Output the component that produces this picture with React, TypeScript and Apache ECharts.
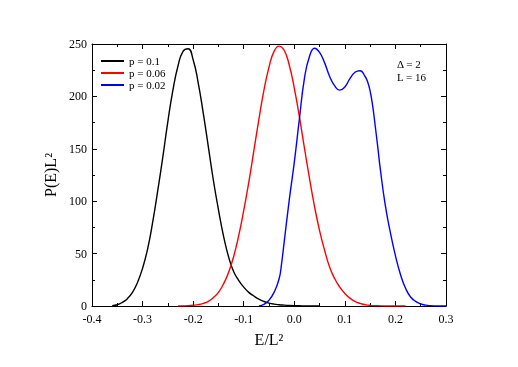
import React, { useEffect, useRef } from "react";
import * as echarts from "echarts";

const blackX = [-0.36, -0.35, -0.34, -0.33, -0.32, -0.31, -0.3, -0.29, -0.28, -0.27, -0.26, -0.25, -0.24, -0.23, -0.22, -0.21, -0.2, -0.19, -0.18, -0.17, -0.16, -0.15, -0.14, -0.13, -0.12, -0.11, -0.1, -0.09, -0.08, -0.07, -0.06, -0.05, -0.04, -0.03, -0.02, -0.01, 0.0, 0.01, 0.02, 0.03, 0.04, 0.05];
const blackY = [0.3, 1.2, 3.5, 7, 13, 22.5, 36, 54.5, 80, 110, 142, 176, 206, 229, 243, 245.5, 235, 213, 184, 152, 120, 92, 67, 47, 33, 24.5, 18, 13, 9.5, 6.5, 4.3, 2.8, 1.8, 1.2, 0.8, 0.5, 0.3, 0.2, 0.1, 0.05, 0, 0];

const redX = [-0.23, -0.22, -0.21, -0.2, -0.19, -0.18, -0.17, -0.16, -0.15, -0.14, -0.13, -0.12, -0.11, -0.1, -0.09, -0.08, -0.07, -0.06, -0.05, -0.04, -0.03, -0.02, -0.01, 0.0, 0.01, 0.02, 0.03, 0.04, 0.05, 0.06, 0.07, 0.08, 0.09, 0.1, 0.11, 0.12, 0.13, 0.14, 0.15, 0.16, 0.17, 0.18, 0.19, 0.2, 0.21, 0.22];
const redY = [0, 0.1, 0.3, 0.7, 1.3, 2.5, 4.5, 8, 13, 21, 32, 47, 67, 91, 118, 148, 178, 206, 228, 243, 248, 244, 230, 208, 181, 151, 122, 95, 72, 53, 37, 26, 18, 12, 7.5, 4.4, 2.5, 1.3, 0.6, 0.3, 0.15, 0.05, 0, 0, 0, 0];

const blueX = [-0.07, -0.06, -0.05, -0.04, -0.03, -0.025, -0.02, -0.01, 0.0, 0.01, 0.02, 0.03, 0.04, 0.05, 0.06, 0.07, 0.08, 0.09, 0.1, 0.11, 0.12, 0.13, 0.14, 0.145, 0.15, 0.155, 0.16, 0.165, 0.17, 0.18, 0.19, 0.2, 0.21, 0.22, 0.23, 0.24, 0.25, 0.26, 0.27, 0.28, 0.29, 0.3];
const blueY = [0, 1.5, 5.5, 13, 26, 41, 61, 101, 137, 178, 217, 238, 246, 242, 232, 219, 210, 206, 209, 217, 223, 224.5, 219, 214, 205, 191, 172, 152, 131, 96, 70, 48, 30, 17, 8.6, 4.4, 2, 0.8, 0.3, 0.1, 0, 0];

const seriesNames = ["p = 0.1", "p = 0.06", "p = 0.02"];
const seriesColors = ["#000000", "#ff0000", "#0000ff"];
const annotations = ["\u0394 = 2", "L = 16"];

const FONT = "Liberation Serif";

export default function App() {
  const ref = useRef<HTMLDivElement>(null);
  useEffect(() => {
    const chart = echarts.init(ref.current!, null, { renderer: "svg" });
    const pair = (xs: number[], ys: number[]) => xs.map((x, i) => [x, ys[i]]);
    const datasets = [pair(blackX, blackY), pair(redX, redY), pair(blueX, blueY)];
    const axisCommon = {
      axisLine: { show: true, onZero: false, lineStyle: { color: "#000", width: 1 } },
      axisTick: { show: true, inside: true, length: 5, lineStyle: { color: "#000", width: 1 } },
      minorTick: { show: true, splitNumber: 2, length: 3, lineStyle: { color: "#000", width: 1 } },
      splitLine: { show: false },
    };
    chart.setOption({
      animation: false,
      grid: { left: 92, right: 72, top: 44, bottom: 61 },
      xAxis: [
        {
          type: "value",
          min: -0.4,
          max: 0.3,
          interval: 0.1,
          ...axisCommon,
          axisLabel: {
            color: "#000",
            fontFamily: FONT,
            fontSize: 12,
            lineHeight: 12,
            margin: 7,
            formatter: (v: number) => v.toFixed(1),
          },
          name: "E/L\u00B2",
          nameLocation: "middle",
          nameGap: 25,
          nameTextStyle: { color: "#000", fontFamily: FONT, fontSize: 16 },
        },
        {
          type: "value",
          position: "top",
          min: -0.4,
          max: 0.3,
          interval: 0.1,
          ...axisCommon,
          axisLabel: { show: false },
        },
      ],
      yAxis: [
        {
          type: "value",
          min: 0,
          max: 250,
          interval: 50,
          ...axisCommon,
          axisLabel: { color: "#000", fontFamily: FONT, fontSize: 12, lineHeight: 10, margin: 5 },
          name: "P(E)L\u00B2",
          nameLocation: "middle",
          nameGap: 34,
          nameTextStyle: { color: "#000", fontFamily: FONT, fontSize: 16 },
        },
        {
          type: "value",
          position: "right",
          min: 0,
          max: 250,
          interval: 50,
          ...axisCommon,
          axisLabel: { show: false },
        },
      ],
      legend: {
        orient: "vertical",
        left: 101,
        top: 55,
        padding: 0,
        itemGap: 0,
        itemWidth: 23,
        itemHeight: 2,
        itemTextGap: 3,
        icon: "rect",
        textStyle: { color: "#000", fontFamily: FONT, fontSize: 11, lineHeight: 12 },
        data: seriesNames,
      },
      graphic: annotations.map((t, i) => ({
        type: "text",
        left: 397,
        top: 58 + i * 13,
        style: { text: t, fill: "#000", font: `11px "${FONT}"` },
      })),
      series: seriesNames.map((name, i) => ({
        name,
        type: "line",
        xAxisIndex: 0,
        yAxisIndex: 0,
        data: datasets[i],
        symbol: "none",
        smooth: 0.5,
        lineStyle: { color: seriesColors[i], width: 1.4 },
        itemStyle: { color: seriesColors[i] },
      })),
    });
    return () => chart.dispose();
  }, []);
  return <div ref={ref} style={{ position: "fixed", left: 0, top: 0, width: 518, height: 367 }} />;
}
